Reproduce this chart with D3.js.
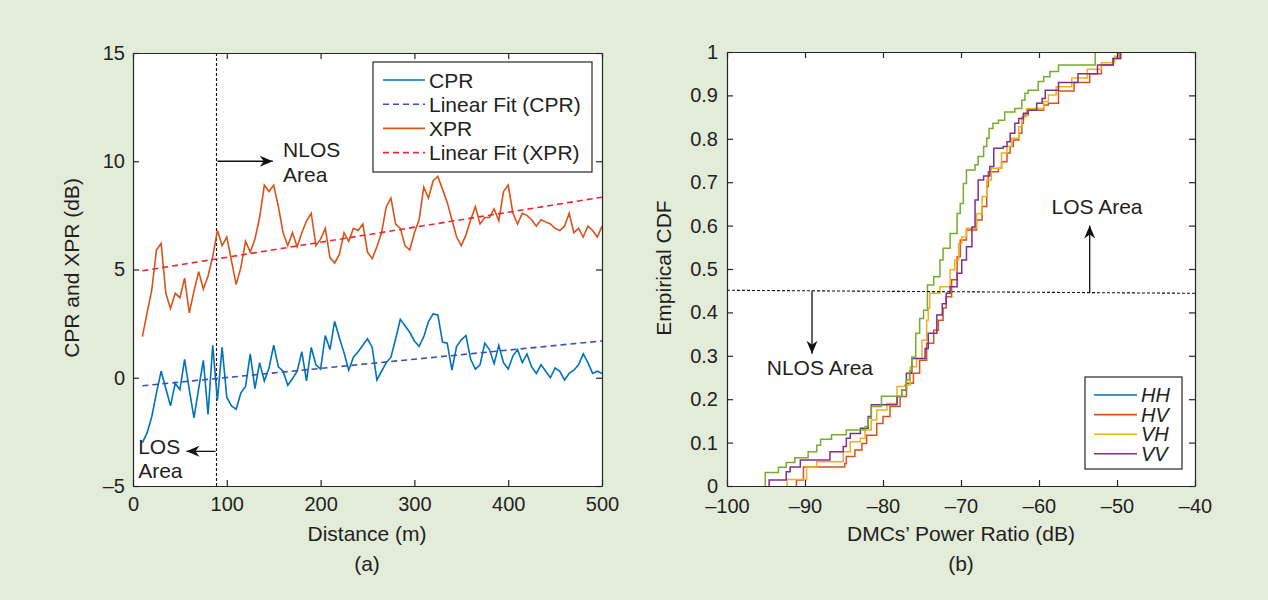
<!DOCTYPE html>
<html>
<head>
<meta charset="utf-8">
<script src="https://cdn.jsdelivr.net/npm/d3@7/dist/d3.min.js"></script>
<style>
body { margin: 0; background: #e3ecd8; }
text { font-family: "Liberation Sans", Arial, sans-serif; fill: #231f20; }
.axis path, .axis line { stroke: #262626; stroke-width: 1.2; }
.axis text { font-size: 20px; fill: #231f20; }
</style>
</head>
<body>
<div id="chart"></div>
<script>
// ---- data (a): CPR / XPR vs distance ----
var distance = [10,15,20,25,30,35,40,45,50,55,60,65,70,75,80,85,90,95,100,
  105,110,115,120,125,130,135,140,145,150,155,160,165,170,175,180,185,190,195,200,
  205,210,215,220,225,230,235,240,245,250,255,260,265,270,275,280,285,290,295,300,
  305,310,315,320,325,330,335,340,345,350,355,360,365,370,375,380,385,390,395,400,
  405,410,415,420,425,430,435,440,445,450,455,460,465,470,475,480,485,490,495,500];
var cprValues = [-3.0,-2.55,-1.8,-0.7,0.3,-0.5,-1.3,-0.25,-0.55,0.85,-0.55,-1.85,-0.5,0.8,-1.7,1.5,-1.05,1.4,-0.9,
  -1.3,-1.45,-0.7,-0.4,1.1,-0.5,0.7,-0.15,0.45,1.5,0.5,0.3,-0.35,-0.05,0.3,1.2,-0.15,1.4,0.6,0.4,
  1.95,1.3,2.6,1.85,1.15,0.35,0.95,1.2,1.5,1.8,1.4,-0.1,0.3,0.7,0.95,1.8,2.7,2.4,2.1,1.7,
  1.45,1.9,2.6,2.95,2.9,1.65,1.6,0.35,1.45,1.75,1.95,0.85,0.4,0.6,1.6,1.3,0.65,1.5,0.7,0.4,
  1.0,1.3,0.7,1.1,0.5,0.2,0.6,0.3,0.0,0.45,0.3,-0.1,0.2,0.35,0.6,1.1,0.7,0.2,0.3,0.2];
var xprValues = [1.9,3.0,4.05,5.9,6.2,3.9,3.2,3.9,3.7,4.6,3.0,4.0,4.9,4.1,4.7,5.6,6.8,6.1,6.5,
  5.4,4.3,5.1,6.3,5.8,6.4,7.4,8.9,8.6,8.9,7.9,6.7,6.1,6.7,6.05,6.7,7.25,7.6,6.1,6.4,
  6.9,5.55,5.3,5.7,6.7,6.3,6.9,6.8,7.1,5.8,5.5,6.05,6.7,7.9,8.3,7.1,6.9,6.1,5.9,6.7,
  7.3,8.8,8.3,9.1,9.3,8.7,8.1,7.3,6.5,6.1,6.6,7.3,7.9,7.1,7.4,7.4,7.8,7.25,8.6,8.9,
  7.6,7.1,7.6,7.5,7.3,7.0,7.3,7.2,7.1,6.9,6.8,7.0,7.6,6.7,6.9,6.5,7.0,6.8,6.5,7.0];
var cprFit = [[10, -0.37], [500, 1.70]];
var xprFit = [[10, 4.94], [500, 8.34]];
var boundaryDistance = 89;
var leftXTicks = [0, 100, 200, 300, 400, 500];
var leftYTicks = [-5, 0, 5, 10, 15];

// ---- data (b): empirical CDF steps [dB, cdf] ----
var cdfHH = [[-95.1,0],[-95.1,0.031],[-93.4,0.043],[-92.4,0.054],[-91.3,0.065],[-89.6,0.079],[-88.5,0.094],
  [-88.0,0.108],[-86.6,0.118],[-84.7,0.129],[-82.3,0.137],[-81.9,0.156],[-81.5,0.183],[-80.2,0.207],
  [-77.6,0.221],[-77.0,0.244],[-76.6,0.265],[-76.3,0.297],[-75.8,0.352],[-75.3,0.386],[-74.8,0.405],
  [-74.3,0.463],[-73.5,0.482],[-72.7,0.521],[-72.3,0.548],[-71.4,0.582],[-70.5,0.628],[-70.1,0.651],
  [-69.7,0.697],[-69.3,0.728],[-68.2,0.740],[-67.8,0.759],[-67.1,0.782],[-66.7,0.801],[-66.4,0.824],
  [-65.9,0.836],[-65.2,0.843],[-64.4,0.862],[-63.1,0.870],[-62.2,0.889],[-61.8,0.905],[-61.4,0.912],
  [-60.1,0.932],[-59.4,0.943],[-58.6,0.955],[-57.5,0.97],[-52.8,1.0]];
var cdfHV = [[-91.1,0],[-91.1,0.014],[-90.2,0.044],[-84.9,0.052],[-84.7,0.068],[-83.6,0.083],[-82.7,0.098],
  [-82.1,0.117],[-80.8,0.144],[-80.0,0.16],[-79.1,0.183],[-77.8,0.206],[-77.0,0.237],[-76.1,0.260],
  [-75.3,0.290],[-74.4,0.329],[-73.5,0.359],[-72.9,0.382],[-72.3,0.41],[-71.9,0.436],[-71.2,0.475],
  [-70.5,0.528],[-70.1,0.567],[-69.3,0.59],[-68.0,0.613],[-67.3,0.644],[-66.7,0.690],[-66.5,0.724],
  [-65.2,0.732],[-64.8,0.747],[-64.1,0.767],[-63.7,0.782],[-63.3,0.797],[-62.6,0.813],[-62.2,0.836],
  [-62.0,0.855],[-61.4,0.866],[-59.4,0.878],[-58.8,0.882],[-57.5,0.91],[-55.5,0.93],[-53.5,0.95],
  [-52.0,0.97],[-50.5,0.985],[-49.5,1.0]];
var cdfVH = [[-92.3,0],[-92.3,0.015],[-89.8,0.044],[-88.5,0.056],[-85.1,0.079],[-84.2,0.102],[-82.9,0.110],
  [-82.3,0.129],[-81.5,0.152],[-80.8,0.175],[-79.5,0.19],[-78.2,0.229],[-77.2,0.233],[-76.5,0.275],
  [-75.7,0.294],[-75.0,0.336],[-74.4,0.382],[-74.2,0.41],[-74.0,0.444],[-72.7,0.459],[-71.4,0.498],
  [-70.8,0.521],[-70.3,0.559],[-69.9,0.574],[-69.3,0.594],[-68.0,0.628],[-67.3,0.667],[-66.7,0.705],
  [-66.1,0.732],[-64.8,0.767],[-64.1,0.782],[-63.5,0.801],[-62.6,0.828],[-62.2,0.851],[-61.6,0.870],
  [-59.4,0.886],[-58.8,0.901],[-57.8,0.92],[-55.8,0.94],[-53.8,0.96],[-52.0,0.975],[-50.3,0.99],[-49.8,1.0]];
var cdfVV = [[-94.6,0],[-94.6,0.014],[-92.4,0.033],[-91.9,0.044],[-90.6,0.060],[-86.8,0.079],[-85.1,0.091],
  [-84.7,0.110],[-84.2,0.121],[-82.9,0.133],[-81.9,0.160],[-81.5,0.187],[-78.2,0.206],[-77.6,0.221],
  [-77.0,0.260],[-76.3,0.294],[-74.6,0.317],[-74.2,0.352],[-73.1,0.394],[-72.4,0.42],[-71.9,0.444],
  [-71.4,0.459],[-70.5,0.49],[-69.9,0.521],[-69.3,0.551],[-68.6,0.597],[-68.2,0.659],[-67.8,0.705],
  [-67.1,0.714],[-66.3,0.736],[-65.8,0.778],[-64.6,0.782],[-64.1,0.793],[-63.7,0.813],[-63.1,0.836],
  [-62.6,0.847],[-62.0,0.859],[-61.4,0.866],[-60.3,0.882],[-59.6,0.893],[-59.2,0.912],[-57.5,0.93],
  [-55.0,0.95],[-52.5,0.97],[-50.5,0.985],[-49.6,1.0]];
var losThreshold = [[-100, 0.451], [-40, 0.444]];
var rightXTicks = [-100, -90, -80, -70, -60, -50, -40];
var rightYTicks = [0, 0.1, 0.2, 0.3, 0.4, 0.5, 0.6, 0.7, 0.8, 0.9, 1];
var legendNames = ["HH", "HV", "VH", "VV"];
var legendColors = ["#0072bd", "#d95319", "#edb120", "#7e2f8e"];

var svg = d3.select("#chart").append("svg")
    .attr("width", 1268)
    .attr("height", 600);

svg.append("rect").attr("width", 1268).attr("height", 600).attr("fill", "#e3ecd8");

var defs = svg.append("defs");
defs.append("marker")
    .attr("id", "arrow")
    .attr("viewBox", "-14 -7 16 14")
    .attr("refX", 0).attr("refY", 0)
    .attr("markerWidth", 16).attr("markerHeight", 14)
    .attr("markerUnits", "userSpaceOnUse")
    .attr("orient", "auto")
    .append("path")
    .attr("d", "M0,0 L-13,-5.5 L-9,0 L-13,5.5 Z")
    .attr("fill", "#111");

var minus = function(d) { return d < 0 ? "\u2013" + Math.abs(d) : "" + d; };

function frame(g, x, y, xt, yt, padX, padY) {
  g.append("g").attr("class", "axis")
      .attr("transform", "translate(0," + y.range()[0] + ")")
      .call(d3.axisBottom(x).tickValues(xt).tickSize(-6).tickSizeOuter(0).tickPadding(padX).tickFormat(minus));
  g.append("g").attr("class", "axis")
      .attr("transform", "translate(0," + y.range()[1] + ")")
      .call(d3.axisTop(x).tickValues(xt).tickSize(-6).tickSizeOuter(0).tickFormat(""));
  g.append("g").attr("class", "axis")
      .attr("transform", "translate(" + x.range()[0] + ",0)")
      .call(d3.axisLeft(y).tickValues(yt).tickSize(-6).tickSizeOuter(0).tickPadding(padY).tickFormat(minus));
  g.append("g").attr("class", "axis")
      .attr("transform", "translate(" + x.range()[1] + ",0)")
      .call(d3.axisRight(y).tickValues(yt).tickSize(-6).tickSizeOuter(0).tickFormat(""));
}

// ================= (a) =================
var xA = d3.scaleLinear().domain([0, 500]).range([133, 602]);
var yA = d3.scaleLinear().domain([-5, 15]).range([486, 53]);

var gA = svg.append("g");
gA.append("rect").attr("x", 133).attr("y", 53).attr("width", 469).attr("height", 433).attr("fill", "#fff");
defs.append("clipPath").attr("id", "clipA").append("rect")
    .attr("x", 133).attr("y", 53).attr("width", 469).attr("height", 433);

var lineA = d3.line().x(function(d) { return xA(d[0]); }).y(function(d) { return yA(d[1]); });
var plotA = gA.append("g").attr("clip-path", "url(#clipA)");

plotA.append("path")
    .attr("d", lineA([[boundaryDistance, -5], [boundaryDistance, 15]]))
    .attr("stroke", "#111").attr("stroke-width", 1.1).attr("stroke-dasharray", "3,2").attr("fill", "none");

plotA.append("path")
    .attr("d", lineA(distance.map(function(d, i) { return [d, xprValues[i]]; })))
    .attr("stroke", "#d95319").attr("stroke-width", 1.6).attr("fill", "none");
plotA.append("path")
    .attr("d", lineA(xprFit))
    .attr("stroke", "#f0282d").attr("stroke-width", 1.6).attr("stroke-dasharray", "6,4").attr("fill", "none");
plotA.append("path")
    .attr("d", lineA(distance.map(function(d, i) { return [d, cprValues[i]]; })))
    .attr("stroke", "#0072bd").attr("stroke-width", 1.6).attr("fill", "none");
plotA.append("path")
    .attr("d", lineA(cprFit))
    .attr("stroke", "#3a4fb0").attr("stroke-width", 1.6).attr("stroke-dasharray", "6,4").attr("fill", "none");

frame(gA, xA, yA, leftXTicks, leftYTicks, 11, 8);

// annotations (a)
gA.append("path").attr("d", lineA([[boundaryDistance + 1, 10], [149, 10]]))
    .attr("stroke", "#111").attr("stroke-width", 1.3).attr("marker-end", "url(#arrow)");
gA.append("text").attr("x", xA(160)).attr("y", yA(10.2)).style("font-size", "21px").text("NLOS");
gA.append("text").attr("x", xA(160)).attr("y", yA(9.05)).style("font-size", "21px").text("Area");
gA.append("path").attr("d", lineA([[boundaryDistance - 1, -3.4], [57, -3.4]]))
    .attr("stroke", "#111").attr("stroke-width", 1.3).attr("marker-end", "url(#arrow)");
gA.append("text").attr("x", xA(5.5)).attr("y", yA(-3.5)).style("font-size", "21px").text("LOS");
gA.append("text").attr("x", xA(5.5)).attr("y", yA(-4.65)).style("font-size", "21px").text("Area");

// legend (a)
var legA = gA.append("g");
legA.append("rect").attr("x", 373).attr("y", 62).attr("width", 219).attr("height", 110)
    .attr("fill", "#fff").attr("stroke", "#262626").attr("stroke-width", 1.2);
var legAItems = [
  { name: "CPR", color: "#0072bd", dash: null },
  { name: "Linear Fit (CPR)", color: "#3a4fb0", dash: "6,4" },
  { name: "XPR", color: "#d95319", dash: null },
  { name: "Linear Fit (XPR)", color: "#f0282d", dash: "6,4" }
];
legAItems.forEach(function(it, i) {
  var yy = 80 + i * 24.2;
  legA.append("line").attr("x1", 383).attr("x2", 425).attr("y1", yy).attr("y2", yy)
      .attr("stroke", it.color).attr("stroke-width", 1.6).attr("stroke-dasharray", it.dash);
  legA.append("text").attr("x", 429).attr("y", yy).attr("dy", "0.36em").style("font-size", "21px").text(it.name);
});

gA.append("text").attr("transform", "translate(79,268) rotate(-90)")
    .attr("text-anchor", "middle").style("font-size", "21px").text("CPR and XPR (dB)");
gA.append("text").attr("x", 367).attr("y", 541).attr("text-anchor", "middle").style("font-size", "21px").text("Distance (m)");
gA.append("text").attr("x", 367).attr("y", 571).attr("text-anchor", "middle").style("font-size", "21px").text("(a)");

// ================= (b) =================
var xB = d3.scaleLinear().domain([-100, -40]).range([727, 1195]);
var yB = d3.scaleLinear().domain([0, 1]).range([486, 52]);

var gB = svg.append("g");
gB.append("rect").attr("x", 727).attr("y", 52).attr("width", 468).attr("height", 434).attr("fill", "#fff");
defs.append("clipPath").attr("id", "clipB").append("rect")
    .attr("x", 727).attr("y", 51).attr("width", 468).attr("height", 436);

var lineB = d3.line().x(function(d) { return xB(d[0]); }).y(function(d) { return yB(d[1]); });
var stepB = d3.line().x(function(d) { return xB(d[0]); }).y(function(d) { return yB(d[1]); }).curve(d3.curveStepAfter);
var plotB = gB.append("g").attr("clip-path", "url(#clipB)");

var cdfSeries = [
  { data: cdfHV, color: "#d95319" },
  { data: cdfVH, color: "#edb120" },
  { data: cdfVV, color: "#7e2f8e" },
  { data: cdfHH, color: "#77ac30" }
];
cdfSeries.forEach(function(s) {
  plotB.append("path").attr("d", stepB(s.data))
      .attr("stroke", s.color).attr("stroke-width", 1.5).attr("fill", "none");
});

gB.append("path").attr("d", lineB(losThreshold))
    .attr("stroke", "#111").attr("stroke-width", 1.1).attr("stroke-dasharray", "3,2").attr("fill", "none");

frame(gB, xB, yB, rightXTicks, rightYTicks, 13, 9);

// annotations (b)
gB.append("path").attr("d", lineB([[-89.1, 0.45], [-89.1, 0.305]]))
    .attr("stroke", "#111").attr("stroke-width", 1.3).attr("marker-end", "url(#arrow)");
gB.append("text").attr("x", xB(-94.9)).attr("y", yB(0.255)).style("font-size", "21px").text("NLOS Area");
gB.append("path").attr("d", lineB([[-53.5, 0.445], [-53.5, 0.60]]))
    .attr("stroke", "#111").attr("stroke-width", 1.3).attr("marker-end", "url(#arrow)");
gB.append("text").attr("x", xB(-58.4)).attr("y", yB(0.627)).style("font-size", "21px").text("LOS Area");

// legend (b)
var legB = gB.append("g");
legB.append("rect").attr("x", 1085).attr("y", 377).attr("width", 97).attr("height", 92)
    .attr("fill", "#fff").attr("stroke", "#262626").attr("stroke-width", 1.2);
legendNames.forEach(function(n, i) {
  var yy = 395 + i * 19.6;
  legB.append("line").attr("x1", 1094).attr("x2", 1137).attr("y1", yy).attr("y2", yy)
      .attr("stroke", legendColors[i]).attr("stroke-width", 1.6);
  legB.append("text").attr("x", 1141).attr("y", yy).attr("dy", "0.36em")
      .style("font-size", "20px").style("font-style", "italic").text(n);
});

gB.append("text").attr("transform", "translate(671,268) rotate(-90)")
    .attr("text-anchor", "middle").style("font-size", "21px").text("Empirical CDF");
gB.append("text").attr("x", 961).attr("y", 541).attr("text-anchor", "middle").style("font-size", "21px").text("DMCs\u2019 Power Ratio (dB)");
gB.append("text").attr("x", 961).attr("y", 571).attr("text-anchor", "middle").style("font-size", "21px").text("(b)");
</script>
</body>
</html>
